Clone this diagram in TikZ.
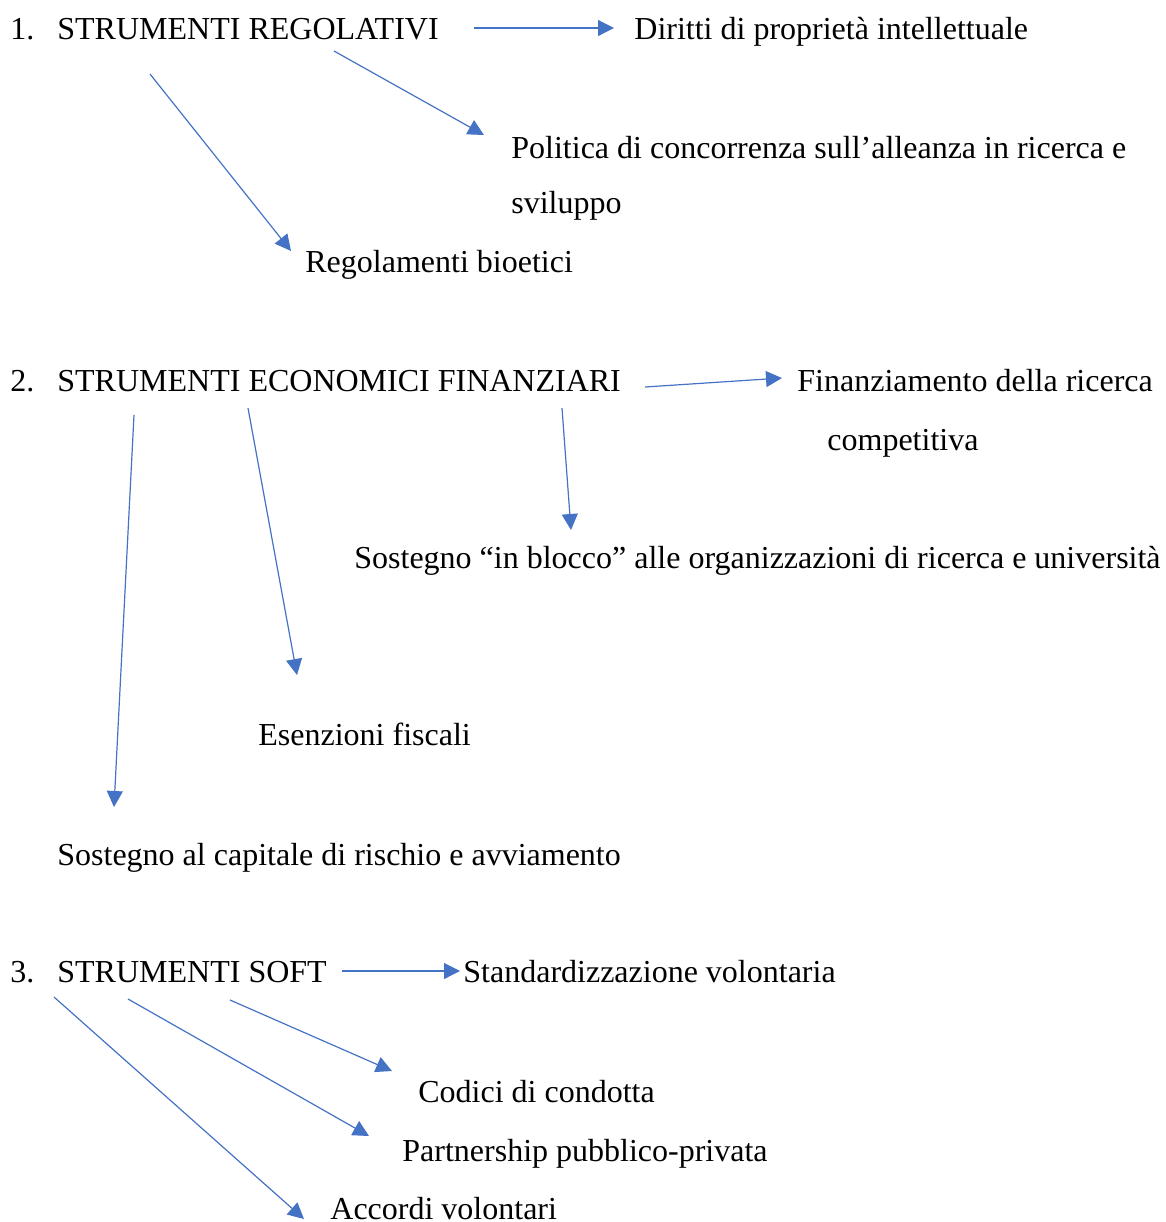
\documentclass[tikz,border=0pt]{standalone}
\usepackage{fontspec}
\setmainfont{Liberation Serif}
\usetikzlibrary{arrows.meta}
\definecolor{arrblue}{HTML}{4472C4}
\begin{document}
\begin{tikzpicture}[x=0.5pt,y=-0.5pt,
  lbl/.style={anchor=base west,inner sep=0pt,font=\fontsize{16}{19}\selectfont},
  arr/.style={draw=arrblue,line width=0.6pt,-{Triangle[length=8pt,width=8pt]}}]
\useasboundingbox (0,0) rectangle (1166,1222);
% section 1
\node[lbl] (n1) at (10,39) {1.};
\node[lbl] (h1) at (57,39) {STRUMENTI REGOLATIVI};
\node[lbl] (a1) at (634,39) {Diritti di proprietà intellettuale};
\node[lbl] (b1) at (511,158) {Politica di concorrenza sull’alleanza in ricerca e};
\node[lbl] (b1b) at (511,213) {sviluppo};
\node[lbl] (c1) at (305,272) {Regolamenti bioetici};
\coordinate (s1a) at (474,28); \coordinate (e1a) at (614,28);
\coordinate (s1b) at (334,51); \coordinate (e1b) at (484,135);
\coordinate (s1c) at (150,74); \coordinate (e1c) at (291,251);
\draw[arr] (s1a) -- (e1a);
\draw[arr] (s1b) -- (e1b);
\draw[arr] (s1c) -- (e1c);
% section 2
\node[lbl] (n2) at (10,391) {2.};
\node[lbl] (h2) at (57,391) {STRUMENTI ECONOMICI FINANZIARI};
\node[lbl] (a2) at (797,391) {Finanziamento della ricerca};
\node[lbl] (a2b) at (827,450) {competitiva};
\node[lbl] (b2) at (354,568) {Sostegno “in blocco” alle organizzazioni di ricerca e università};
\node[lbl] (c2) at (258,745) {Esenzioni fiscali};
\node[lbl] (d2) at (57,865) {Sostegno al capitale di rischio e avviamento};
\coordinate (s2a) at (645,387); \coordinate (e2a) at (782,378);
\coordinate (s2b) at (562,408); \coordinate (e2b) at (571,530);
\coordinate (s2c) at (248,408); \coordinate (e2c) at (297,675);
\coordinate (s2d) at (134,415); \coordinate (e2d) at (114,807);
\draw[arr] (s2a) -- (e2a);
\draw[arr] (s2b) -- (e2b);
\draw[arr] (s2c) -- (e2c);
\draw[arr] (s2d) -- (e2d);
% section 3
\node[lbl] (n3) at (10,982) {3.};
\node[lbl] (h3) at (57,982) {STRUMENTI SOFT};
\node[lbl] (a3) at (463,982) {Standardizzazione volontaria};
\node[lbl] (b3) at (418,1102) {Codici di condotta};
\node[lbl] (c3) at (402,1161) {Partnership pubblico-privata};
\node[lbl] (d3) at (330,1219) {Accordi volontari};
\coordinate (s3a) at (342,971); \coordinate (e3a) at (460,971);
\coordinate (s3b) at (230,1000); \coordinate (e3b) at (392,1071);
\coordinate (s3c) at (128,999); \coordinate (e3c) at (369,1136);
\coordinate (s3d) at (54,997); \coordinate (e3d) at (304,1219);
\draw[arr] (s3a) -- (e3a);
\draw[arr] (s3b) -- (e3b);
\draw[arr] (s3c) -- (e3c);
\draw[arr] (s3d) -- (e3d);
\end{tikzpicture}
\end{document}
